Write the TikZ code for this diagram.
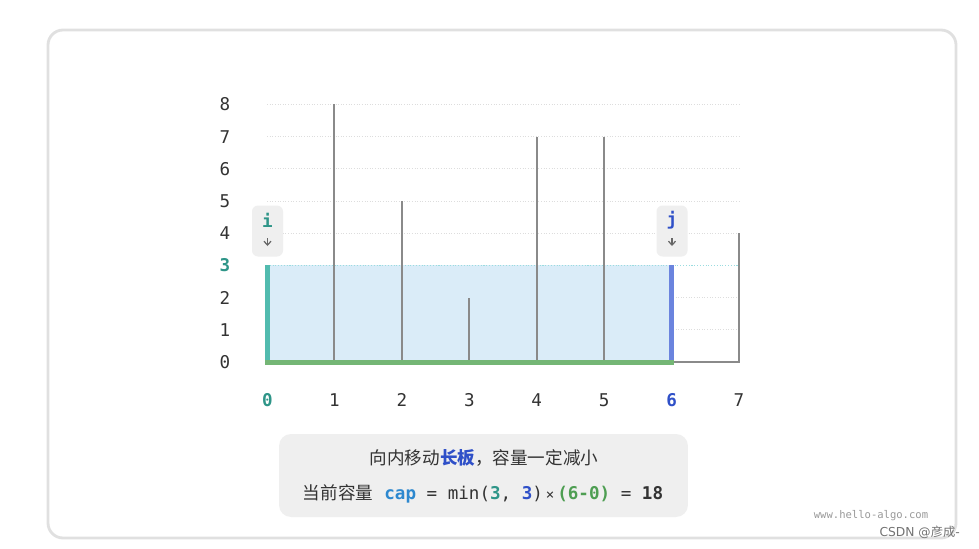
\documentclass[tikz,border=0pt]{standalone}
\usepackage{fontspec}
\setmainfont{DejaVu Sans}
\setmonofont{DejaVu Sans Mono}
\newfontfamily\cjk{Noto Sans CJK SC}
\usetikzlibrary{arrows.meta,positioning}

\definecolor{tealbar}{HTML}{52BBAF}
\definecolor{tealtxt}{HTML}{2E9588}
\definecolor{bluebar}{HTML}{6B84DE}
\definecolor{bluetxt}{HTML}{2F50C8}
\definecolor{greenbar}{HTML}{74B675}
\definecolor{greentxt}{HTML}{4E9E52}
\definecolor{water}{HTML}{DAECF8}
\definecolor{boxgray}{HTML}{EFEFEF}
\definecolor{wall}{HTML}{8A8A8A}
\definecolor{captxt}{HTML}{2D88CF}
\definecolor{gridc}{HTML}{DDDDDD}
\definecolor{levelc}{HTML}{9ADCE0}

\tikzset{
  wallline/.style={draw=wall, line width=0.04cm},
  gridline/.style={draw=gridc, densely dotted, line width=0.5pt},
  axislab/.style={font=\ttfamily, text=black!80},
  ptrbox/.style={fill=boxgray, rounded corners=0.12cm, minimum width=0.62cm, minimum height=1.02cm, inner sep=0pt},
  ptrtip/.style={-{Straight Barb[length=2.2pt,width=4pt]}, draw=black!60, line width=0.7pt},
}

\begin{document}
\begin{tikzpicture}[x=0.02cm, y=-0.02cm]
\useasboundingbox (0,0) rectangle (979,548);
% card
\draw[draw=black!12, line width=1.6pt, fill=white, rounded corners=0.3cm] (48,30) rectangle (956,538);

% grid
\foreach \h in {1,2,4,5,6,7,8} {
  \draw[gridline] (267,362-32.2*\h) -- (739,362-32.2*\h);
}
% water between i and j
\fill[water] (267,265.4) rectangle (671.6,362);
\draw[draw=levelc, densely dotted, line width=0.6pt] (267,265.4) -- (739,265.4);

% walls
\coordinate (b1) at (334.4,362); \coordinate (t1) at (334.4,104.4);
\coordinate (b2) at (401.9,362); \coordinate (t2) at (401.9,201);
\coordinate (b3) at (469.3,362); \coordinate (t3) at (469.3,297.6);
\coordinate (b4) at (536.7,362); \coordinate (t4) at (536.7,136.6);
\coordinate (b5) at (604.2,362); \coordinate (t5) at (604.2,136.6);
\coordinate (b7) at (739,362);   \coordinate (t7) at (739,233.2);
\coordinate (b0) at (267.5,362); \coordinate (t0) at (267.5,265.4);
\coordinate (b6) at (671.6,362); \coordinate (t6) at (671.6,265.4);
\draw[wallline] (b1) -- (t1);
\draw[wallline] (b2) -- (t2);
\draw[wallline] (b3) -- (t3);
\draw[wallline] (b4) -- (t4);
\draw[wallline] (b5) -- (t5);
\draw[wallline] (t7) -- (b7) -- (b6);
\draw[draw=tealbar, line width=0.1cm] (b0) -- (t0);
\draw[draw=bluebar, line width=0.1cm] (b6) -- (t6);
\draw[draw=greenbar, line width=0.1cm] (265,362) -- (673.5,362);

% y axis
\node[axislab] (y0) at (225,362) {0};
\node[axislab] (y1) at (225,329.8) {1};
\node[axislab] (y2) at (225,297.6) {2};
\node[axislab, text=tealtxt, font=\ttfamily\bfseries] (y3) at (225,265.4) {3};
\node[axislab] (y4) at (225,233.2) {4};
\node[axislab] (y5) at (225,201) {5};
\node[axislab] (y6) at (225,168.8) {6};
\node[axislab] (y7) at (225,136.6) {7};
\node[axislab] (y8) at (225,104.4) {8};

% x axis
\node[axislab, text=tealtxt, font=\ttfamily\bfseries] (x0) at (267.5,400) {0};
\node[axislab] (x1) at (334.4,400) {1};
\node[axislab] (x2) at (401.9,400) {2};
\node[axislab] (x3) at (469.3,400) {3};
\node[axislab] (x4) at (536.7,400) {4};
\node[axislab] (x5) at (604.2,400) {5};
\node[axislab, text=bluetxt, font=\ttfamily\bfseries] (x6) at (671.6,400) {6};
\node[axislab] (x7) at (739,400) {7};

% pointers
\node[ptrbox] (pi) at (267.5,231) {};
\node[font=\ttfamily\bfseries, text=tealtxt] (ilab) at (267.5,220) {i};
\coordinate (itip) at (267.5,246);
\draw[ptrtip] (267.5,238) -- (itip);
\node[ptrbox] (pj) at (672,231) {};
\node[font=\ttfamily\bfseries, text=bluetxt] (jlab) at (672,220) {j};
\coordinate (jtip) at (672,246);
\draw[ptrtip] (672,238) -- (jtip);

% note
\node[fill=boxgray, rounded corners=0.24cm, minimum width=8.18cm, minimum height=1.66cm] (note) at (483.5,475.5) {};
\node[font=\cjk, text=black!80] (line1) at (484,458) {向内移动{\color{bluetxt}\bfseries 长板}，容量一定减小};
\node[text=black!80] (line2) at (483,494) {{\cjk 当前容量}\ \ \texttt{{\bfseries\color{captxt}cap} = min({\bfseries\color{tealtxt}3}, {\bfseries\color{bluetxt}3})\,{\footnotesize ×}\,{\bfseries\color{greentxt}(6-0)} = {\bfseries 18}}};

% watermarks
\node[font=\ttfamily\fontsize{6}{7}\selectfont, text=black!40] (site) at (871,516) {www.hello-algo.com};
\node[font=\fontsize{7}{8}\selectfont, text=black!55, anchor=east] (csdn) at (966,532) {CSDN @{\cjk 彦成}-};
\end{tikzpicture}
\end{document}
